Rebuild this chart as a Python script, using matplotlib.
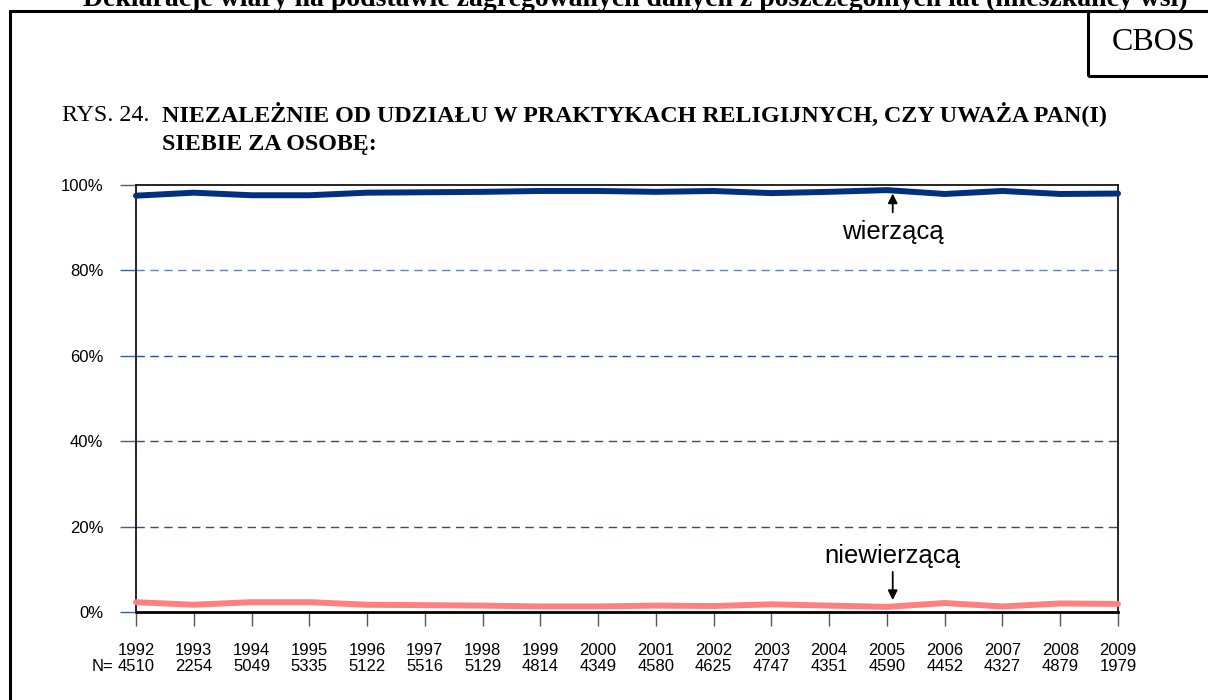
import matplotlib
matplotlib.use('Agg')
import matplotlib.pyplot as plt
from matplotlib.patches import Rectangle

# Data
years = list(range(1992, 2010))
n_sizes = [4510, 2254, 5049, 5335, 5122, 5516, 5129, 4814, 4349,
           4580, 4625, 4747, 4351, 4590, 4452, 4327, 4879, 1979]
believer = [97.5, 98.2, 97.6, 97.6, 98.2, 98.3, 98.4, 98.6, 98.6,
            98.4, 98.6, 98.1, 98.4, 98.8, 97.9, 98.6, 97.9, 98.0]
nonbeliever = [2.3, 1.7, 2.3, 2.3, 1.7, 1.6, 1.5, 1.3, 1.3,
               1.5, 1.4, 1.8, 1.5, 1.2, 2.1, 1.3, 2.0, 1.9]
y_ticks = [0, 20, 40, 60, 80, 100]

W, H = 1208, 700
fig = plt.figure(figsize=(W / 100, H / 100), dpi=100)
sans = 'Liberation Sans'
serif = 'Liberation Serif'

# Outer frame and CBOS box
fig.patches.append(Rectangle((10 / W, -0.1), 1.2, (H - 11) / H + 0.1, transform=fig.transFigure,
                             fill=False, lw=2.2, ec='black'))
fig.patches.append(Rectangle((1088 / W, (H - 76) / H), 0.2, 65 / H, transform=fig.transFigure,
                             fill=False, lw=2.2, ec='black'))
fig.text(1154 / W, (H - 42) / H, 'CBOS', family=serif, fontsize=23, ha='center', va='center')

# Header text, cut at the top edge as in the source page
fig.text(635 / W, (H - 6) / H,
         'Deklaracje wiary na podstawie zagregowanych danych z poszczególnych lat (mieszkańcy wsi)',
         family=serif, fontsize=20, fontweight='bold', ha='center', va='baseline')

# Figure title
fig.text(62 / W, (H - 121) / H, 'RYS. 24.', family=serif, fontsize=17.3, va='baseline')
fig.text(162 / W, (H - 121) / H, 'NIEZALEŻNIE OD UDZIAŁU W PRAKTYKACH RELIGIJNYCH, CZY UWAŻA PAN(I)',
         family=serif, fontsize=17.3, fontweight='bold', va='baseline')
fig.text(162 / W, (H - 150) / H, 'SIEBIE ZA OSOBĘ:',
         family=serif, fontsize=17.3, fontweight='bold', va='baseline')

ax = fig.add_axes([136 / W, (H - 612) / H, 982 / W, 427 / H])
ax.set_xlim(1992, 2009)
ax.set_ylim(0, 100)

for v in [20, 40, 60, 80]:
    ax.axhline(v, color='#2a4a9a' if v != 80 else '#6580bc', lw=1, ls=(0, (6, 4)), zorder=1)

ax.plot(years, nonbeliever, color='#ff8080', lw=4.3, solid_capstyle='round', zorder=5, clip_on=False)
ax.plot(years, believer, color='#00307f', lw=4.3, solid_capstyle='round', zorder=5, clip_on=False)

for side in ['left', 'right', 'top']:
    ax.spines[side].set_linewidth(1.2)
ax.spines['bottom'].set_linewidth(2)

ax.set_yticks(y_ticks)
ax.set_yticklabels([f'{v}%' for v in y_ticks], family=sans, fontsize=12)
ax.tick_params(axis='y', length=11.5, width=1, color='#3f5ca8', pad=12)

ax.set_xticks(years)
ax.set_xticklabels([f'{y}\n{n}' for y, n in zip(years, n_sizes)], family=sans, fontsize=12,
                   linespacing=1.1)
ax.tick_params(axis='x', length=10, width=1, color='#555555', pad=12)
fig.text(113 / W, (H - 671) / H, 'N=', family=sans, fontsize=12, ha='right', va='baseline')

arrow = dict(arrowstyle='-|>', color='black', lw=1.3, mutation_scale=14, shrinkA=0, shrinkB=0)
ax.annotate('', xy=(2005.1, 98.0), xytext=(2005.1, 93.6), arrowprops=arrow)
ax.text(2005.1, 87.4, 'wierzącą', family=sans, fontsize=18.5, ha='center', va='baseline')
ax.annotate('', xy=(2005.1, 2.8), xytext=(2005.1, 9.4), arrowprops=arrow)
ax.text(2005.1, 11.5, 'niewierzącą', family=sans, fontsize=18.5, ha='center', va='baseline')

fig.savefig('out.png', dpi=100)
